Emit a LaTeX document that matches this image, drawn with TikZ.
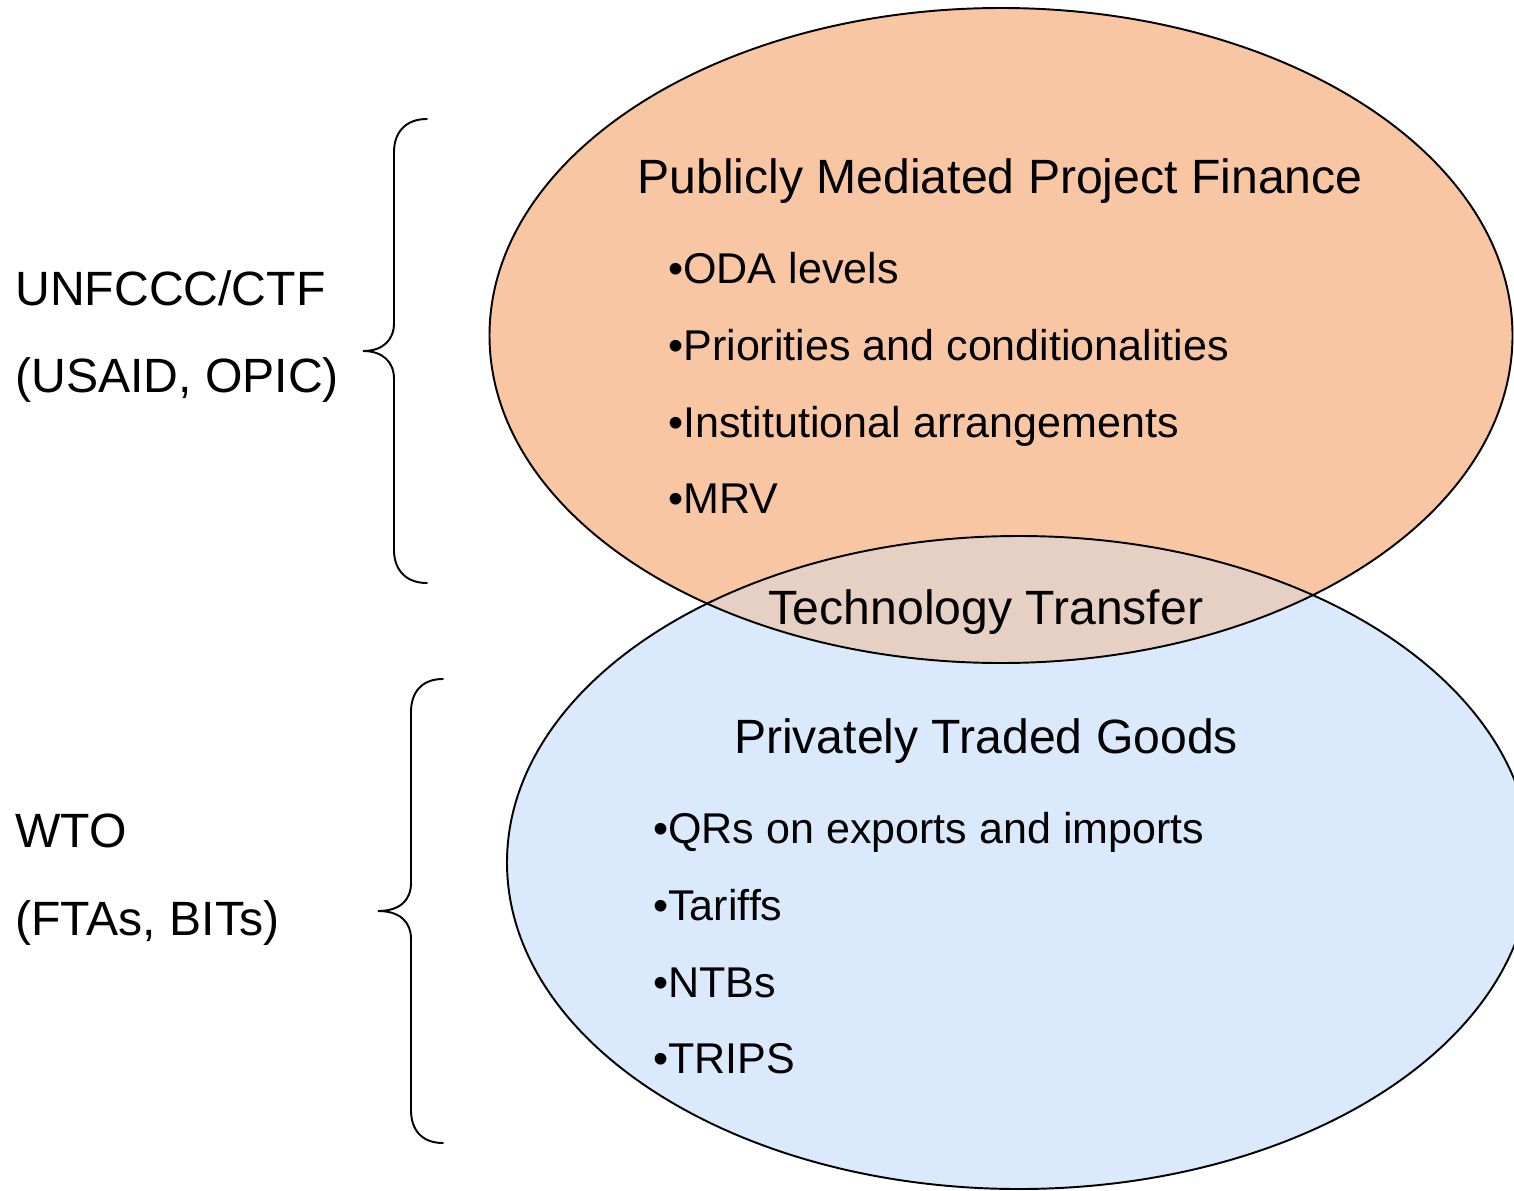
\documentclass[tikz,border=0pt]{standalone}
\usepackage{fontspec}
\setmainfont{Liberation Sans}
\definecolor{orangefill}{RGB}{248,198,162}
\definecolor{bluefill}{RGB}{218,234,252}
\definecolor{mixfill}{RGB}{230,208,196}
\begin{document}
\begin{tikzpicture}[x=0.02cm,y=-0.02cm,
  lbl/.style={font=\fontsize{27.4}{32}\selectfont, inner sep=0pt},
  item/.style={font=\fontsize{24.5}{30}\selectfont, inner sep=0pt, anchor=base west},
  outline/.style={draw=black, line width=1.1pt},
  brace/.style={draw=black, line width=1.1pt, line cap=round}]
\useasboundingbox (0,0) rectangle (1514,1190);
\clip (0,0) rectangle (1514,1190);
% fills
\fill[orangefill] (1001,335.5) ellipse [x radius=511.5, y radius=327.5];
\fill[bluefill] (1019,862.5) ellipse [x radius=512, y radius=326.5];
\begin{scope}
  \clip (1001,335.5) ellipse [x radius=511.5, y radius=327.5];
  \fill[mixfill] (1019,862.5) ellipse [x radius=512, y radius=326.5];
\end{scope}
% outlines
\draw[outline] (1001,335.5) ellipse [x radius=511.5, y radius=327.5];
\draw[outline] (1019,862.5) ellipse [x radius=512, y radius=326.5];
% top ellipse texts
\node[lbl, anchor=base] (pmpf) at (1000,193) {Publicly Mediated Project Finance};
\node[item] (oda) at (668,283) {•ODA levels};
\node[item] (prio) at (668,360) {•Priorities and conditionalities};
\node[item] (inst) at (668,437) {•Institutional arrangements};
\node[item] (mrv) at (668,513) {•MRV};
\node[lbl, anchor=base] (tt) at (986,624) {Technology Transfer};
% bottom ellipse texts
\node[lbl, anchor=base] (ptg) at (986,753) {Privately Traded Goods};
\node[item] (qrs) at (653,843) {•QRs on exports and imports};
\node[item] (tar) at (653,920) {•Tariffs};
\node[item] (ntb) at (653,997) {•NTBs};
\node[item] (trips) at (653,1073) {•TRIPS};
% left labels
\node[lbl, anchor=base west] (unf) at (15,305) {UNFCCC/CTF};
\node[lbl, anchor=base west] (usaid) at (15,392) {(USAID, OPIC)};
\node[lbl, anchor=base west] (wto) at (15,847) {WTO};
\node[lbl, anchor=base west] (fta) at (15,935) {(FTAs, BITs)};
% braces
\draw[brace] (427,119) .. controls (405,119) and (394,133) .. (394,152) -- (394,323)
  .. controls (394,340) and (383,351) .. (363,351)
  .. controls (383,351) and (394,362) .. (394,379) -- (394,550)
  .. controls (394,569) and (405,583) .. (427,583);
\draw[brace] (443,679) .. controls (421,679) and (411,693) .. (411,712) -- (411,883)
  .. controls (411,900) and (400,911) .. (378,911)
  .. controls (400,911) and (411,922) .. (411,939) -- (411,1110)
  .. controls (411,1129) and (421,1143) .. (443,1143);
\end{tikzpicture}
\end{document}
